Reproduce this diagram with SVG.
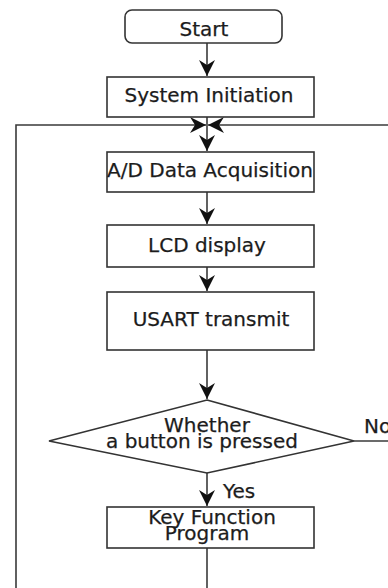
<svg xmlns="http://www.w3.org/2000/svg" width="388" height="588" viewBox="0 0 388 588">
<style>
.box{fill:#fff;stroke:#333;stroke-width:1.6}
.ln{fill:none;stroke:#3a3a3a;stroke-width:1.6}
.t{font-family:"DejaVu Sans",Verdana,sans-serif;font-size:20px;fill:#1c1c1c;stroke:#1c1c1c;stroke-width:0.25;text-anchor:middle}
.tl{font-family:"DejaVu Sans",Verdana,sans-serif;font-size:20px;fill:#1c1c1c;stroke:#1c1c1c;stroke-width:0.25}
</style>
<defs>
<path id="hd" d="M0,0 L-8,-16 L0,-11 L8,-16 Z" fill="#111"/>
</defs>
<rect width="388" height="588" fill="#fff"/>
<g id="connectors">
<line class="ln" x1="207" y1="43" x2="207" y2="76"/>
<use href="#hd" x="207" y="76"/>
<line class="ln" x1="207" y1="117" x2="207" y2="151"/>
<use href="#hd" x="207" y="151"/>
<polyline class="ln" points="207,588 207,548"/>
<polyline class="ln" points="16,588 16,125 206,125"/>
<use href="#hd" transform="translate(206,125) rotate(-90)"/>
<polyline class="ln" points="390,125 208,125"/>
<use href="#hd" transform="translate(208,125) rotate(90)"/>
<line class="ln" x1="207" y1="192" x2="207" y2="224"/>
<use href="#hd" x="207" y="224"/>
<line class="ln" x1="207" y1="267" x2="207" y2="291"/>
<use href="#hd" x="207" y="291"/>
<line class="ln" x1="207" y1="350" x2="207" y2="399"/>
<use href="#hd" x="207" y="399"/>
<line class="ln" x1="207" y1="473" x2="207" y2="506"/>
<use href="#hd" x="207" y="506"/>
<line class="ln" x1="354" y1="441" x2="390" y2="441"/>
<text class="tl" x="223" y="498">Yes</text>
<text class="tl" x="364" y="433">No</text>
</g>
<g id="start">
<rect class="box" x="125" y="10" width="157" height="33" rx="7"/>
<text class="t" x="204" y="36">Start</text>
</g>
<g id="init">
<rect class="box" x="107" y="77" width="207" height="40"/>
<text class="t" x="209" y="102">System Initiation</text>
</g>
<g id="ad">
<rect class="box" x="107" y="152" width="207" height="40"/>
<text class="t" x="210" y="177">A/D Data Acquisition</text>
</g>
<g id="lcd">
<rect class="box" x="107" y="225" width="207" height="42"/>
<text class="t" x="207" y="252">LCD display</text>
</g>
<g id="usart">
<rect class="box" x="107" y="292" width="207" height="58"/>
<text class="t" x="211" y="326">USART transmit</text>
</g>
<g id="decision">
<polygon class="box" points="207,400 354,441 207,473 49,441"/>
<text class="t" x="207" y="432">Whether</text>
<text class="t" x="202" y="448">a button is pressed</text>
</g>
<g id="key">
<rect class="box" x="107" y="507" width="207" height="41"/>
<text class="t" x="212" y="524">Key Function</text>
<text class="t" x="207" y="540">Program</text>
</g>
</svg>
